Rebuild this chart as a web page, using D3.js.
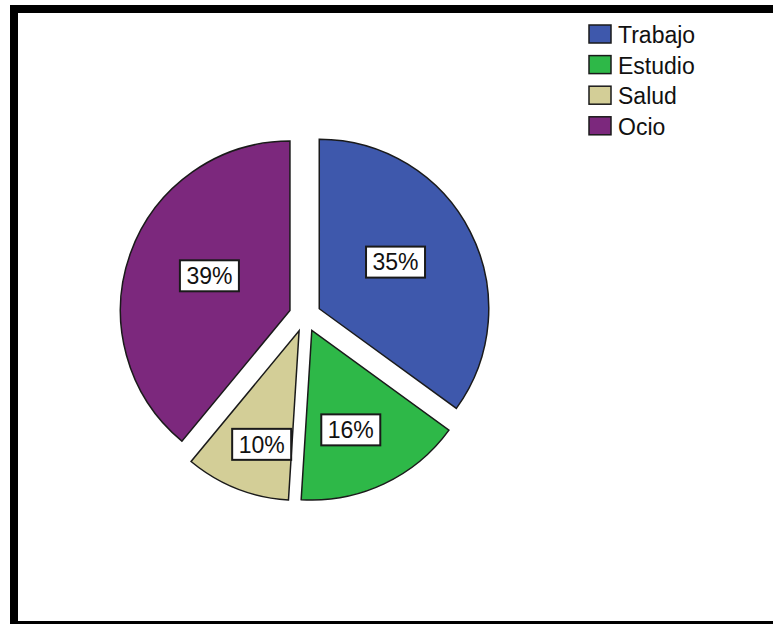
<!DOCTYPE html>
<html>
<head>
<meta charset="utf-8">
<script src="https://cdn.jsdelivr.net/npm/d3@7"></script>
<style>
  html, body { margin: 0; padding: 0; background: #fff; }
  svg { display: block; }
  text { font-family: "Liberation Sans", Arial, sans-serif; fill: #111; }
</style>
</head>
<body>
<svg id="chart" width="773" height="624"></svg>
<script>
// Motivo: share of responses per category
const categories = ["Trabajo", "Estudio", "Salud", "Ocio"];
const values = [35, 16, 10, 39];
const colors = ["#3E58AC", "#2EB848", "#D3CE97", "#7C287D"];

const W = 773, H = 624;
const svg = d3.select("#chart");

// frame around the chart area
svg.append("rect")
  .attr("x", 14).attr("y", 9)
  .attr("width", W + 20).attr("height", 616)
  .attr("fill", "#fff")
  .attr("stroke", "#000")
  .attr("stroke-width", 8);

const cx = 305, cy = 316, radius = 169.5, explode = 16;
const total = d3.sum(values);

const pie = d3.pie().sort(null).value(d => d)
  .startAngle(0).endAngle(2 * Math.PI);
const arcs = pie(values);
const arc = d3.arc().innerRadius(0).outerRadius(radius);
const fmt = d3.format(".0%");

const g = svg.append("g").attr("transform", `translate(${cx},${cy})`);

const slice = g.selectAll("g.slice")
  .data(arcs)
  .join("g")
  .attr("class", "slice")
  .attr("transform", d => {
    const a = (d.startAngle + d.endAngle) / 2;
    return `translate(${explode * Math.sin(a)},${-explode * Math.cos(a)})`;
  });

slice.append("path")
  .attr("d", arc)
  .attr("fill", (d, i) => colors[i])
  .attr("stroke", "#1a1a1a")
  .attr("stroke-width", 1.5)
  .attr("stroke-linejoin", "miter");

// labels sit further out in narrow slices so the box stays inside;
// the placement ellipse is a little taller than wide
const labelPos = d => {
  const share = d.value / total;
  const r = radius * Math.max(0.505, 0.70 - share);
  const a = (d.startAngle + d.endAngle) / 2;
  return [r * Math.sin(a), -1.2 * r * Math.cos(a)];
};

const boxW = 59, boxH = 31;
const lab = slice.append("g")
  .attr("transform", d => `translate(${labelPos(d)})`);
lab.append("rect")
  .attr("x", -boxW / 2).attr("y", -boxH / 2)
  .attr("width", boxW).attr("height", boxH)
  .attr("fill", "#fff")
  .attr("stroke", "#1a1a1a")
  .attr("stroke-width", 2);
lab.append("text")
  .attr("text-anchor", "middle")
  .attr("dy", "0.36em")
  .style("font-size", "23px")
  .text(d => fmt(d.value / total));

// legend
const legend = svg.append("g").attr("transform", "translate(589,25)");
const item = legend.selectAll("g")
  .data(categories)
  .join("g")
  .attr("transform", (d, i) => `translate(0,${i * 30.6})`);
item.append("rect")
  .attr("width", 22).attr("height", 18)
  .attr("fill", (d, i) => colors[i])
  .attr("stroke", "#1a1a1a")
  .attr("stroke-width", 1.5);
item.append("text")
  .attr("x", 29).attr("y", 10)
  .attr("dy", "0.36em")
  .style("font-size", "23px")
  .text(d => d);
</script>
</body>
</html>
